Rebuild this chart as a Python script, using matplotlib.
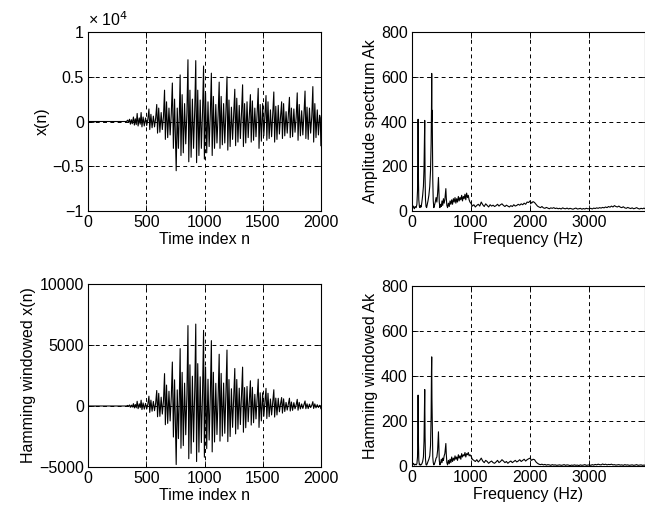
import numpy as np
import matplotlib
matplotlib.use("Agg")
import matplotlib.pyplot as plt

plt.rcParams['font.family'] = ['Liberation Sans', 'DejaVu Sans']
plt.rcParams['axes.unicode_minus'] = True

# ---------------- speech waveform (extrema) ----------------
wave_n = [0, 330, 340, 348, 356, 364, 372, 380, 390, 398, 406, 414, 422, 430, 440, 448,
          456, 463, 473, 483, 494, 504, 514,
          523, 530, 540, 550, 561, 571, 581,
          590, 597, 607, 617, 628, 638, 648,
          657, 664, 674, 684, 695, 705, 715,
          724, 733, 743, 757, 766, 776, 784,
          791, 798, 808, 818, 829, 839, 849,
          858, 865, 875, 885, 896, 906, 916,
          925, 932, 942, 952, 963, 973, 983,
          992, 999, 1009, 1019, 1030, 1040, 1050,
          1059, 1066, 1076, 1086, 1097, 1107, 1117,
          1126, 1133, 1143, 1153, 1164, 1174, 1184,
          1193, 1200, 1210, 1220, 1231, 1241, 1251,
          1260, 1267, 1277, 1287, 1298, 1308, 1318,
          1327, 1334, 1344, 1354, 1365, 1375, 1385,
          1394, 1401, 1411, 1421, 1432, 1442, 1452,
          1461, 1468, 1478, 1488, 1499, 1509, 1519,
          1528, 1535, 1545, 1555, 1566, 1576, 1586,
          1595, 1602, 1612, 1622, 1633, 1643, 1653,
          1662, 1669, 1679, 1689, 1700, 1710, 1720,
          1729, 1736, 1746, 1756, 1767, 1777, 1787,
          1796, 1803, 1813, 1823, 1834, 1844, 1854,
          1863, 1870, 1880, 1890, 1901, 1911, 1921,
          1930, 1937, 1947, 1957, 1968, 1978, 1988,
          1994, 1999]
wave_v = [0, 0, 150, -100, 250, -300, 200, -250, 500, -400, 300, -350, 900, -500, 400, -300,
          1000, -600, 500, -500, 400, -450, 300,
          1400, -900, 800, -700, 600, -600, 400,
          1900, -1300, 1500, -1200, 1000, -900, 600,
          3500, -2000, 2200, -1800, 1500, -1500, 900,
          4300, -3000, 2500, -5500, 1500, -3000, 800,
          5200, -3800, 3000, -3500, 2000, -2500, 1000,
          6900, -4500, 3500, -4000, 2500, -3000, 1200,
          6800, -4600, 3500, -3800, 2400, -3000, 1000,
          6200, -4200, 3200, -3500, 2200, -2800, 900,
          5400, -3800, 2800, -3000, 1900, -2400, 800,
          4400, -3000, 2800, -2600, 2000, -2400, 1200,
          5000, -3200, 2400, -2800, 1600, -2000, 900,
          3600, -2700, 2600, -2300, 1800, -1900, 1100,
          4100, -2800, 2000, -2400, 2200, -1800, 800,
          3000, -2300, 2300, -2100, 1500, -1700, 1000,
          3700, -3000, 1900, -2200, 2000, -1600, 700,
          2900, -2100, 2200, -1900, 1300, -1700, 900,
          3300, -2300, 1700, -2000, 1800, -1400, 600,
          2200, -1900, 2000, -1600, 1100, -1300, 800,
          2700, -1800, 1500, -1700, 1400, -1200, 500,
          3200, -2100, 1900, -1600, 1200, -1500, 900,
          3400, -1900, 1600, -2000, 1500, -1300, 600,
          3900, -2300, 2000, -1800, 1300, -1500, 700,
          400, -2700]

N_SAMPLES = 2000

# ---------------- amplitude spectra ----------------
spec_f_low = [0, 15, 30, 45, 60, 75, 88, 98, 104, 108, 113, 120, 130, 140, 150, 160, 172, 185, 198,
              208, 215, 220, 226, 233, 242, 252, 262, 275, 290, 305, 318, 328, 334, 338, 342, 346,
              350, 356, 364, 374, 385, 398, 412, 425, 438, 447, 452, 458, 466, 476, 488, 500, 512,
              524, 536, 548, 560, 570, 577, 584, 594, 606, 620, 634, 648, 662, 676, 690, 704, 718,
              732, 746, 760, 774, 788, 802, 816, 830, 844, 858, 872, 886, 900, 914, 928, 942, 956,
              970, 984]
spec_a_low = [18, 12, 22, 10, 20, 15, 30, 90, 200, 410, 160, 50, 20, 15, 25, 18, 40, 70, 110,
              190, 300, 405, 150, 50, 20, 15, 28, 45, 70, 110, 180, 300, 450, 615, 400, 450,
              330, 140, 45, 15, 25, 40, 60, 40, 80, 120, 150, 100, 40, 15, 30, 20, 45,
              25, 55, 35, 50, 80, 100, 60, 25, 15, 35, 20, 45, 30, 50, 30, 55, 40,
              60, 35, 55, 40, 65, 45, 60, 50, 70, 45, 65, 55, 75, 50, 80, 60, 70,
              50, 40]
ham_a_low = [10, 5, 12, 4, 8, 5, 10, 40, 150, 315, 120, 25, 5, 8, 4, 6, 10, 20, 40,
             110, 250, 340, 130, 30, 6, 4, 10, 20, 30, 45, 90, 220, 420, 485, 300, 220,
             120, 40, 15, 5, 10, 20, 35, 40, 70, 130, 152, 90, 25, 5, 12, 30, 15,
             35, 25, 45, 55, 80, 100, 55, 15, 5, 25, 10, 30, 15, 40, 20, 35, 25,
             45, 30, 40, 25, 50, 35, 45, 30, 55, 40, 50, 45, 60, 40, 55, 50, 60,
             45, 50]

spec_f_high = [1000, 1025, 1050, 1075, 1100, 1125, 1150, 1175, 1200, 1225, 1250, 1275, 1300, 1325,
               1350, 1375, 1400, 1425, 1450, 1475, 1500, 1525, 1550, 1575, 1600, 1625, 1650, 1675,
               1700, 1725, 1750, 1775, 1800, 1825, 1850, 1875, 1900, 1925, 1950, 1975, 2000, 2025,
               2050, 2075, 2100, 2125, 2150, 2175, 2200, 2225, 2250, 2275, 2300, 2325, 2350, 2375,
               2400, 2425, 2450, 2475, 2500, 2525, 2550, 2575, 2600, 2625, 2650, 2675, 2700, 2725,
               2750, 2775, 2800, 2825, 2850, 2875, 2900, 2925, 2950, 2975, 3000, 3025, 3050, 3075,
               3100, 3125, 3150, 3175, 3200, 3225, 3250, 3275, 3300, 3325, 3350, 3375, 3400, 3425,
               3450, 3475, 3500, 3525, 3550, 3575, 3600, 3625, 3650, 3675, 3700, 3725, 3750, 3775,
               3800, 3825, 3850, 3875, 3900, 3925, 3950]
spec_a_high = [35, 22, 28, 18, 25, 30, 22, 40, 28, 20, 32, 25, 18, 28, 22, 26, 20, 24, 30, 22,
               28, 32, 25, 20, 26, 22, 18, 24, 20, 28, 22, 25, 30, 26, 32, 28, 35, 30, 40, 38,
               45, 35, 42, 38, 30, 22, 18, 15, 20, 14, 12, 16, 13, 10, 14, 12, 15, 11, 13, 10,
               12, 9, 14, 11, 10, 13, 9, 12, 10, 8, 11, 13, 9, 10, 12, 8, 11, 9, 12, 10,
               10, 12, 9, 13, 11, 14, 12, 15, 13, 16, 14, 18, 15, 20, 17, 22, 18, 24, 20, 18,
               22, 17, 15, 19, 14, 12, 16, 13, 11, 14, 10, 12, 15, 11, 9, 12, 10, 13, 9]
ham_a_high = [45, 30, 25, 20, 28, 18, 25, 35, 22, 15, 25, 20, 12, 18, 22, 15, 12, 18, 25, 15,
              20, 28, 22, 15, 20, 12, 18, 22, 15, 20, 25, 18, 22, 28, 20, 25, 30, 22, 28, 32,
              35, 25, 30, 28, 18, 12, 8, 6, 8, 5, 7, 4, 6, 5, 3, 6, 4, 5, 3, 4,
              5, 3, 4, 6, 3, 5, 4, 2, 4, 3, 5, 3, 4, 2, 5, 3, 4, 6, 3, 4,
              5, 3, 6, 4, 7, 5, 8, 6, 5, 9, 6, 8, 5, 7, 6, 8, 5, 6, 4, 5,
              6, 4, 5, 3, 6, 4, 5, 3, 4, 5, 3, 4, 6, 3, 4, 5, 3, 4, 3]

# ---------------- derived series ----------------
n_arr = np.array(wave_n, dtype=float)
x_arr = np.array(wave_v, dtype=float)
hamming = 0.54 - 0.46 * np.cos(2 * np.pi * n_arr / (N_SAMPLES - 1))
xw_arr = x_arr * hamming

spec_f = spec_f_low + spec_f_high
spec_a = spec_a_low + spec_a_high
ham_a = ham_a_low + ham_a_high

# ---------------- figure ----------------
W, H = 645, 516
fig = plt.figure(figsize=(W / 100, H / 100), dpi=100)

def ax_at(l, r, t, b):
    return fig.add_axes([l / W, 1 - b / H, (r - l) / W, (b - t) / H])

FS = 11.5
LW = 0.8

def style(ax):
    ax.grid(True, color='black', linestyle=(0, (4, 3.5)), linewidth=0.7)
    ax.set_axisbelow(False)
    ax.tick_params(direction='in', length=4, width=0.6, top=True, right=True,
                   labelsize=FS, pad=3, colors='black')
    for s in ax.spines.values():
        s.set_linewidth(0.8)
        s.set_color('black')

line_kw = dict(color='black', linewidth=LW)

# top-left: x(n)
ax1 = ax_at(88, 321, 32, 211)
ax1.plot(n_arr, x_arr, **line_kw)
ax1.set_xlim(0, 2000)
ax1.set_ylim(-10000, 10000)
ax1.set_xticks([0, 500, 1000, 1500, 2000])
ax1.set_yticks([-10000, -5000, 0, 5000, 10000])
ax1.set_yticklabels(['\u22121', '\u22120.5', '0', '0.5', '1'])
ax1.set_xlabel('Time index n', fontsize=FS, labelpad=1)
ax1.set_ylabel('x(n)', fontsize=FS, labelpad=2)
ax1.text(0.0, 1.015, '\u00d7 10$^4$', transform=ax1.transAxes, fontsize=FS,
         ha='left', va='bottom')
style(ax1)

# top-right: amplitude spectrum
ax2 = ax_at(411.7, 645.2, 32, 211)
ax2.plot(spec_f, spec_a, **line_kw)
ax2.set_xlim(0, 3945)
ax2.set_ylim(0, 800)
ax2.set_xticks([0, 1000, 2000, 3000])
ax2.set_yticks([0, 200, 400, 600, 800])
ax2.set_xlabel('Frequency (Hz)', fontsize=FS, labelpad=1)
ax2.set_ylabel('Amplitude spectrum Ak', fontsize=FS, labelpad=2)
style(ax2)

# bottom-left: Hamming windowed x(n)
ax3 = ax_at(88, 321, 284, 467)
ax3.plot(n_arr, xw_arr, **line_kw)
ax3.set_xlim(0, 2000)
ax3.set_ylim(-5000, 10000)
ax3.set_xticks([0, 500, 1000, 1500, 2000])
ax3.set_yticks([-5000, 0, 5000, 10000])
ax3.set_yticklabels(['\u22125000', '0', '5000', '10000'])
ax3.set_xlabel('Time index n', fontsize=FS, labelpad=1)
ax3.set_ylabel('Hamming windowed x(n)', fontsize=FS, labelpad=2)
style(ax3)

# bottom-right: Hamming windowed spectrum
ax4 = ax_at(411.7, 645.2, 286, 466)
ax4.plot(spec_f, ham_a, **line_kw)
ax4.set_xlim(0, 3945)
ax4.set_ylim(0, 800)
ax4.set_xticks([0, 1000, 2000, 3000])
ax4.set_yticks([0, 200, 400, 600, 800])
ax4.set_xlabel('Frequency (Hz)', fontsize=FS, labelpad=1)
ax4.set_ylabel('Hamming windowed Ak', fontsize=FS, labelpad=2)
style(ax4)

fig.savefig('out.png', dpi=100)
